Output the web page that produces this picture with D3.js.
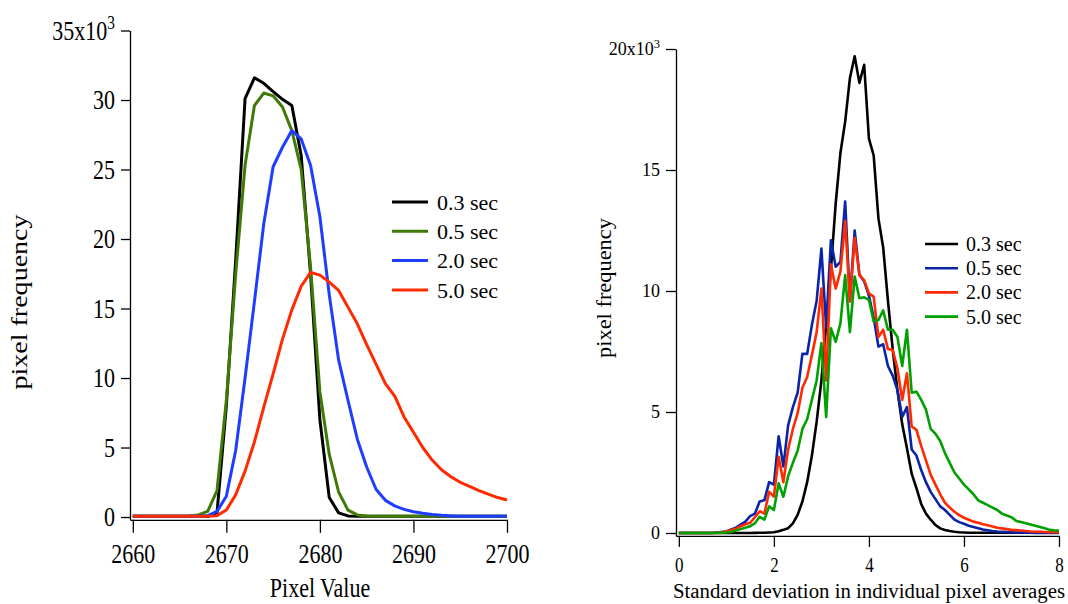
<!DOCTYPE html>
<html>
<head>
<meta charset="utf-8">
<script src="https://cdn.jsdelivr.net/npm/d3@7"></script>
<style>
  body { margin: 0; background: #fff; }
  svg { display: block; font-family: "Liberation Serif", "Times New Roman", serif; }
</style>
</head>
<body>
<div id="chart"></div>
<script>
// ---- Left panel data: histogram of pixel values (counts in thousands)
const pixelValues = [2660, 2661, 2662, 2663, 2664, 2665, 2666, 2667, 2668, 2669,
    2670, 2671, 2672, 2673, 2674, 2675, 2676, 2677, 2678, 2679,
    2680, 2681, 2682, 2683, 2684, 2685, 2686, 2687, 2688, 2689,
    2690, 2691, 2692, 2693, 2694, 2695, 2696, 2697, 2698, 2699, 2700];
const px03 = [0.05, 0.05, 0.05, 0.05, 0.05, 0.05, 0.05, 0.05, 0.05, 0.3,
    8, 18.5, 30.1, 31.6, 31.2, 30.6, 30.05, 29.6, 26, 17.5,
    7, 1.4, 0.3, 0.08, 0.05, 0.05, 0.05, 0.05, 0.05, 0.05,
    0.05, 0.05, 0.05, 0.05, 0.05, 0.05, 0.05, 0.05, 0.05, 0.05, 0.05];
const px05 = [0.05, 0.05, 0.05, 0.05, 0.05, 0.05, 0.08, 0.15, 0.4, 1.9,
    8.4, 17.5, 25.3, 29.6, 30.5, 30.3, 29.5, 27.8, 25, 18,
    9, 4.5, 1.8, 0.5, 0.15, 0.08, 0.05, 0.05, 0.05, 0.05,
    0.05, 0.05, 0.05, 0.05, 0.05, 0.05, 0.05, 0.05, 0.05, 0.05, 0.05];
const px20 = [0.05, 0.05, 0.05, 0.05, 0.05, 0.05, 0.05, 0.05, 0.1, 0.4,
    1.5, 4.8, 10, 15.5, 21.1, 25.2, 26.6, 27.8, 27.2, 25.3,
    21.6, 16, 11.3, 8.4, 5.6, 3.6, 2.0, 1.2, 0.8, 0.55,
    0.38, 0.27, 0.18, 0.12, 0.08, 0.05, 0.05, 0.05, 0.05, 0.05, 0.05];
const px50 = [0.05, 0.05, 0.05, 0.05, 0.05, 0.05, 0.05, 0.05, 0.05, 0.1,
    0.5, 1.6, 3.3, 5.4, 7.9, 10.3, 12.8, 14.9, 16.6, 17.6,
    17.4, 16.9, 16.3, 15.1, 13.9, 12.4, 11.0, 9.6, 8.7, 7.2,
    6.1, 5.0, 4.1, 3.4, 2.9, 2.5, 2.2, 1.9, 1.65, 1.4, 1.22];
const leftTicksX = [2660, 2670, 2680, 2690, 2700];
const leftTicksY = [0, 5, 10, 15, 20, 25, 30, 35];

// ---- Right panel data: std deviation of pixel averages (counts in thousands)
const sdBins = d3.range(0, 81).map(i => i / 10);
const sd03 = [0, 0, 0, 0, 0, 0, 0, 0, 0, 0, 0, 0, 0, 0, 0, 0,
    0.005, 0.01, 0.01, 0.02, 0.03, 0.07, 0.13, 0.2, 0.4, 0.75,
    1.3, 2.1, 3.2, 4.6, 6.3, 8.6, 10.9, 13.6, 15.7, 17.0,
    18.8, 19.7, 18.6, 19.35, 16.3, 15.6, 13.0, 11.8, 9.6, 7.6,
    5.9, 4.5, 3.5, 2.45, 1.85, 1.2, 0.8, 0.55, 0.33, 0.19,
    0.12, 0.08, 0.05, 0.03, 0.02,
    0.01, 0.01, 0.01, 0.01, 0.01, 0.01, 0.01, 0.01, 0.01, 0.01,
    0.01, 0.01, 0.01, 0.01, 0.01, 0.01, 0.01, 0.01, 0.01, 0.01];
const sd05 = [0, 0, 0, 0, 0, 0, 0, 0,
    0.02, 0.04, 0.06, 0.15, 0.22, 0.35, 0.47, 0.7, 0.8, 1.3,
    1.35, 2.1, 2.0, 4.0, 2.75, 4.45, 5.2, 5.8, 7.4, 7.4,
    8.6, 9.6, 11.75, 8.5, 12.1, 11.0, 11.2, 13.7, 9.6, 12.5,
    10.66, 10.4, 9.8, 8.9, 7.7, 7.8, 6.9, 6.5, 5.9, 4.8,
    5.2, 3.45, 3.2, 2.6, 2.1, 1.7, 1.4, 1.1, 0.95, 0.75,
    0.55, 0.45, 0.38, 0.3, 0.25, 0.2, 0.14, 0.11, 0.08, 0.06,
    0.05, 0.04, 0.03, 0.02, 0.02, 0.01, 0.01,
    0, 0, 0, 0, 0, 0];
const sd20 = [0, 0, 0, 0, 0, 0, 0, 0,
    0.01, 0.03, 0.06, 0.12, 0.18, 0.28, 0.36, 0.42, 0.65, 0.9,
    0.8, 1.7, 1.5, 3.15, 2.1, 3.45, 4.3, 4.95, 6.0, 6.45,
    7.35, 8.3, 10.1, 6.3, 11.1, 10.1, 10.8, 12.9, 9.56, 12.2,
    10.66, 10.45, 9.9, 9.77, 8.1, 8.4, 7.6, 7.56, 6.8, 5.5,
    6.6, 4.4, 4.26, 3.6, 3.0, 2.4, 2.0, 1.6, 1.25, 1.05,
    0.88, 0.74, 0.63, 0.55, 0.47, 0.42, 0.36, 0.32, 0.27, 0.22,
    0.19, 0.16, 0.13, 0.12, 0.1, 0.08, 0.06, 0.05, 0.05, 0.04,
    0.03, 0.03, 0.03];
const sd50 = [0, 0, 0, 0, 0, 0, 0, 0, 0,
    0.01, 0.02, 0.04, 0.1, 0.16, 0.22, 0.28, 0.4, 0.67, 0.55,
    1.1, 0.95, 2.05, 1.5, 2.35, 2.9, 3.4, 4.3, 4.7, 5.5,
    6.3, 7.85, 4.8, 8.46, 7.9, 8.66, 10.66, 8.3, 10.6, 9.7,
    9.74, 9.63, 8.74, 8.8, 9.2, 8.4, 8.4, 8.1, 6.9, 8.4,
    5.8, 5.84, 5.5, 5.1, 4.3, 4.1, 3.8, 3.3, 2.9, 2.5,
    2.25, 2.0, 1.8, 1.6, 1.35, 1.25, 1.15, 1.05, 0.95, 0.8,
    0.72, 0.65, 0.5, 0.45, 0.4, 0.35, 0.3, 0.25, 0.2, 0.13,
    0.11, 0.1];
const rightTicksX = [0, 2, 4, 6, 8];
const rightTicksY = [0, 5, 10, 15, 20];

const legendLabels = ["0.3 sec", "0.5 sec", "2.0 sec", "5.0 sec"];

const svg = d3.select("#chart").append("svg")
    .attr("width", 1068)
    .attr("height", 604);

// the source figure's text is a little taller than it is wide
function stretchY(sel, k, oy) {
    sel.attr("transform", `translate(0,${oy}) scale(1,${k}) translate(0,${-oy})`);
}

function drawPanel(opt) {
    const g = svg.append("g");
    const x = d3.scaleLinear().domain(opt.xDomain).range(opt.xRange);
    const y = d3.scaleLinear().domain(opt.yDomain).range(opt.yRange);

    // lines first, axes drawn over
    const line = d3.line().x(d => x(d[0])).y(d => y(d[1]));
    opt.series.forEach(s => {
        g.append("path")
            .datum(opt.xs.map((v, i) => [v, s.values[i]]))
            .attr("fill", "none")
            .attr("stroke", s.color)
            .attr("stroke-width", opt.lineWidth)
            .attr("stroke-linejoin", "round")
            .attr("d", line);
    });

    const yAxis = g.append("g")
        .attr("transform", `translate(${opt.xRange[0]},0)`)
        .call(d3.axisLeft(y).tickValues(opt.yTicks).tickSize(opt.yTickLen)
            .tickSizeOuter(0).tickPadding(opt.yPad).tickFormat(d3.format("d")));
    const xAxis = g.append("g")
        .attr("transform", `translate(0,${opt.yRange[0]})`)
        .call(d3.axisBottom(x).tickValues(opt.xTicks).tickSize(opt.xTickLen)
            .tickSizeOuter(0).tickPadding(opt.xPad).tickFormat(d3.format("d")));

    [yAxis, xAxis].forEach(a => {
        a.selectAll("path, line").attr("stroke", "#000").attr("stroke-width", 1.3);
        a.selectAll("text").attr("fill", "#000")
            .style("font-family", "'Liberation Serif', serif");
    });
    yAxis.selectAll("text").style("font-size", opt.yFont + "px");
    xAxis.selectAll("text").style("font-size", opt.xFont + "px");
    stretchY(yAxis.selectAll("text"), opt.yStretch, 0);
    stretchY(xAxis.selectAll("text"), opt.xStretch, opt.xTickLen + opt.xPad);

    // top label with x10^3 multiplier
    const top = opt.yTicks[opt.yTicks.length - 1];
    yAxis.selectAll(".tick").filter(d => d === top).select("text")
        .text(top + "x10")
        .append("tspan")
        .attr("dy", "-0.55em")
        .style("font-size", "0.7em")
        .text("3");

    const xl = g.append("text")
        .attr("x", opt.xLabelPos[0])
        .attr("y", opt.xLabelPos[1])
        .attr("text-anchor", "middle")
        .style("font-size", opt.xLabelFont + "px")
        .text(opt.xLabel);
    stretchY(xl, opt.xLabelStretch, opt.xLabelPos[1]);

    g.append("text")
        .attr("transform", `translate(${opt.yLabelPos[0]},${opt.yLabelPos[1]}) rotate(-90) scale(${opt.yLabelStretch},1)`)
        .attr("text-anchor", "middle")
        .style("font-size", opt.yLabelFont + "px")
        .text("pixel frequency");

    // legend
    const lg = g.append("g");
    opt.series.forEach((s, i) => {
        const ly = opt.legend.y + i * opt.legend.step;
        lg.append("line")
            .attr("x1", opt.legend.x).attr("x2", opt.legend.x + opt.legend.len)
            .attr("y1", ly).attr("y2", ly)
            .attr("stroke", s.color)
            .attr("stroke-width", opt.lineWidth);
        lg.append("text")
            .attr("x", opt.legend.x + opt.legend.len + opt.legend.gap)
            .attr("y", ly)
            .attr("dy", "0.35em")
            .style("font-size", opt.legend.font + "px")
            .text(legendLabels[i]);
    });
}

drawPanel({
    xs: pixelValues,
    xDomain: [2659.7, 2700], xRange: [130, 507],
    yDomain: [-0.2, 35], yRange: [519.8, 30.5],
    xTicks: leftTicksX, yTicks: leftTicksY,
    xTickLen: 13, yTickLen: 9, xPad: 11, yPad: 6,
    xFont: 22, yFont: 22, xStretch: 1.24, yStretch: 1.22,
    lineWidth: 3,
    xLabel: "Pixel Value", xLabelPos: [320, 597], xLabelFont: 22, xLabelStretch: 1.24,
    yLabelPos: [27, 302], yLabelFont: 23, yLabelStretch: 1.22,
    series: [
        {values: px03, color: "#000000"},
        {values: px05, color: "#3f7a06"},
        {values: px20, color: "#1f3dff"},
        {values: px50, color: "#ff2a00"}
    ],
    legend: {x: 392, y: 202, step: 29.3, len: 36, gap: 9, font: 22}
});

drawPanel({
    xs: sdBins,
    xDomain: [-0.06, 8], xRange: [676, 1059],
    yDomain: [-0.12, 20], yRange: [535.9, 49],
    xTicks: rightTicksX, yTicks: rightTicksY,
    xTickLen: 11, yTickLen: 10, xPad: 10, yPad: 6,
    xFont: 17, yFont: 18, xStretch: 1.22, yStretch: 1.0,
    lineWidth: 2.6,
    xLabel: "Standard deviation in individual pixel averages", xLabelPos: [869, 598],
    xLabelFont: 20.8, xLabelStretch: 1.0,
    yLabelPos: [611, 288], yLabelFont: 20, yLabelStretch: 1.12,
    series: [
        {values: sd03, color: "#000000"},
        {values: sd05, color: "#0a24a8"},
        {values: sd20, color: "#ff2a00"},
        {values: sd50, color: "#00a000"}
    ],
    legend: {x: 925, y: 244, step: 24.2, len: 33, gap: 8, font: 20}
});
</script>
</body>
</html>
